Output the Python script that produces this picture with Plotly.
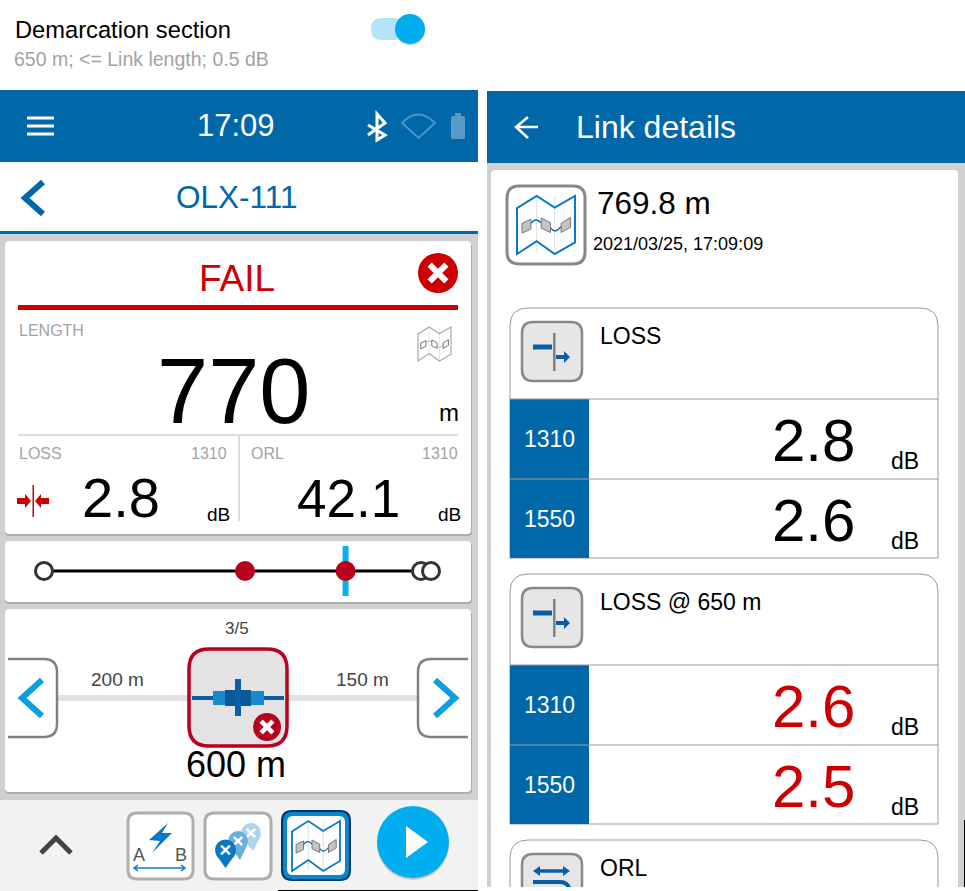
import plotly.graph_objects as go

clock_time = "17:09"
device_name = "OLX-111"
verdict = "FAIL"
section_title = "Demarcation section"
section_params = "650 m; <= Link length; 0.5 dB"
link_length_short = 770
link_length_exact = 769.8
link_stamp = "2021/03/25, 17:09:09"
summary_wavelength = 1310
summary_loss = 2.8
summary_orl = 42.1
wavelengths = [1310, 1550]
loss_db = [2.8, 2.6]
loss_650_db = [2.6, 2.5]
event_positions_m = [0, 400, 600, 750, 770]
event_kinds = ["end", "fail", "fail", "end", "end"]
selected_event = "3/5"
selected_position_m = 600
span_before_m = 200
span_after_m = 150

FONT = "Liberation Sans"
BLUE = "#0067a9"
RED = "#cc0000"
DARK_RED = "#b8001f"
CYAN = "#00aeef"
GREY_TXT = "#a3a3a3"
BACK = "#d0d0d0"

shapes = []
notes = []


def path(d, fill=None, line=None, width=0):
    s = dict(type="path", path=d, layer="below", line=dict(width=width, color=line or "rgba(0,0,0,0)"))
    if fill:
        s["fillcolor"] = fill
    shapes.append(s)


def poly(pts, line, width, closed=False, fill=None):
    d = "M " + " L ".join(f"{x} {y}" for x, y in pts) + (" Z" if closed else "")
    path(d, fill=fill, line=line, width=width)


def rrect(x0, y0, x1, y1, r, fill=None, line=None, width=0):
    d = (f"M {x0+r} {y0} L {x1-r} {y0} Q {x1} {y0} {x1} {y0+r} L {x1} {y1-r} Q {x1} {y1} {x1-r} {y1} "
         f"L {x0+r} {y1} Q {x0} {y1} {x0} {y1-r} L {x0} {y0+r} Q {x0} {y0} {x0+r} {y0} Z")
    path(d, fill=fill, line=line, width=width)


def rect(x0, y0, x1, y1, fill):
    shapes.append(dict(type="rect", x0=x0, y0=y0, x1=x1, y1=y1, fillcolor=fill, line_width=0, layer="below"))


def circle(cx, cy, r, fill):
    shapes.append(dict(type="circle", x0=cx-r, y0=cy-r, x1=cx+r, y1=cy+r, fillcolor=fill, line_width=0, layer="below"))


def text(x, base, s, size, color="#000000", anchor="left"):
    # y is given as the baseline, annotations only know the middle of the box
    # annotation boxes have some padding, so nudge the side anchored ones
    nudge = {"left": -2, "right": 2, "center": 0}[anchor]
    notes.append(dict(x=x+nudge, y=base-0.35*size, text=str(s), showarrow=False, xanchor=anchor, yanchor="middle",
                      font=dict(family=FONT, size=size, color=color)))


def card(x0, y0, x1, y1):
    rrect(x0, y0+2, x1+1, y1+2, 4, fill="#adadad")
    rrect(x0, y0, x1, y1, 4, fill="#ffffff")


def fail_badge(cx, cy, r, color, lw):
    circle(cx, cy, r, color)
    a = r*0.42
    poly([(cx-a, cy-a), (cx+a, cy+a)], "#ffffff", lw)
    poly([(cx-a, cy+a), (cx+a, cy-a)], "#ffffff", lw)


def map_icon(x0, y0, w, h, color, lw, fold, block, edge):
    fx = lambda v: round(x0+v*w, 1)
    fy = lambda v: round(y0+v*h, 1)
    for v in (0.34, 0.65):
        poly([(fx(v), fy(0.02)), (fx(v), fy(0.98))], fold, 1)
    outline = [(0, .21), (.34, 0), (.65, .2), (1, 0), (1, .8), (.65, 1), (.34, .78), (0, 1)]
    poly([(fx(a), fy(b)) for a, b in outline], color, lw, closed=True)
    path(f"M {fx(.24)} {fy(.47)} Q {fx(.32)} {fy(.36)} {fx(.417)} {fy(.46)}", line=edge, width=lw*0.7)
    path(f"M {fx(.577)} {fy(.55)} Q {fx(.66)} {fy(.66)} {fx(.76)} {fy(.53)}", line=edge, width=lw*0.7)
    for q in ([(.086, .47), (.24, .40), (.24, .57), (.086, .64)],
              [(.417, .38), (.577, .46), (.577, .63), (.417, .555)],
              [(.76, .47), (.92, .37), (.92, .54), (.76, .63)]):
        poly([(fx(a), fy(b)) for a, b in q], "#777777", 1, closed=True, fill=block)


def pin(cx, cy, r, tip_x, tip_y, color):
    circle(cx, cy, r, color)
    poly([(cx-r*0.9, cy+r*0.45), (tip_x, tip_y), (cx+r*0.9, cy+r*0.45)], color, 0, closed=True, fill=color)
    a = r*0.42
    poly([(cx-a, cy-a), (cx+a, cy+a)], "#ffffff", 2.5)
    poly([(cx-a, cy+a), (cx+a, cy-a)], "#ffffff", 2.5)


# ---- top strip
text(15, 38, section_title, 23.7)
text(14, 66, section_params, 19.5, GREY_TXT)
rrect(371, 18, 405, 40, 11, fill="#b5e4fa")
circle(410, 30, 15, "#c9c9c9")
circle(410, 29, 15, CYAN)

# ---- left screen
rect(0, 90, 478, 162, BLUE)
rect(0, 231, 478, 234, BLUE)
rect(0, 234, 478, 800, BACK)
for y in (118, 126, 134):
    poly([(27, y), (54, y)], "#ffffff", 3)
text(236, 136, clock_time, 31, "#ffffff", "center")
poly([(368, 125), (385, 135), (377, 140), (377, 114), (385, 123), (368, 135)], "#ffffff", 3)
path("M 402 123 Q 418 106 435 123 L 418.5 138 Z", line="#4f94c6", width=2)
rrect(451, 116, 465, 139, 2, fill="#5a9ac8")
rect(455, 113, 461, 116, "#5a9ac8")
poly([(43, 182), (25, 198), (43, 214)], BLUE, 6)
text(236, 208, device_name, 31.5, BLUE, "center")

card(5, 241, 471, 534)
text(237, 291, verdict, 37, RED, "center")
fail_badge(438, 273, 20, RED, 6)
rect(18, 305, 458, 310, RED)
text(19, 336, "LENGTH", 16, GREY_TXT)
map_icon(418, 327, 33, 34, "#a8a8a8", 1.2, "#e6e6e6", "#ffffff", "#a8a8a8")
text(234, 423, link_length_short, 92, "#000000", "center")
text(459, 421, "m", 24, "#000000", "right")
rect(18, 434, 458, 436, "#dddddd")
rect(238, 436, 240, 521, "#dddddd")
text(19, 459, "LOSS", 16, GREY_TXT)
text(227, 459, summary_wavelength, 16, GREY_TXT, "right")
text(251, 459, "ORL", 16, GREY_TXT)
text(458, 459, summary_wavelength, 16, GREY_TXT, "right")
rect(32.5, 485, 34, 517, RED)
poly([(17, 498), (25, 498), (25, 494), (31, 501), (25, 508), (25, 504), (17, 504)], RED, 0, closed=True, fill=RED)
poly([(49, 498), (41, 498), (41, 494), (35, 501), (41, 508), (41, 504), (49, 504)], RED, 0, closed=True, fill=RED)
text(121, 517, summary_loss, 56, "#000000", "center")
text(230, 521, "dB", 19, "#000000", "right")
text(400, 517, summary_orl, 53, "#000000", "right")
text(461, 521, "dB", 19, "#000000", "right")

card(5, 541, 471, 602)

card(5, 609, 471, 792)
text(237, 634, selected_event, 17, "#444444", "center")
rect(58, 695, 418, 701, "#e2e2e2")
text(117, 686, f"{span_before_m} m", 19, "#444444", "center")
text(362, 686, f"{span_after_m} m", 19, "#444444", "center")
path("M 8 659 L 44 659 Q 57 659 57 672 L 57 724 Q 57 737 44 737 L 8 737", fill="#ffffff", line="#808080", width=2.5)
path("M 468 659 L 431 659 Q 418 659 418 672 L 418 724 Q 418 737 431 737 L 468 737", fill="#ffffff", line="#808080", width=2.5)
poly([(42, 680), (22, 698), (42, 716)], "#0a9fe0", 6)
poly([(435, 680), (455, 698), (435, 716)], "#0a9fe0", 6)
rrect(189, 649, 287, 746, 20, fill="#e3e3e3", line=DARK_RED, width=3.5)
rect(192, 696, 284, 700, "#0a5ea8")
rect(213, 691, 264, 705, "#1a8ad0")
rect(225, 690, 251, 706, "#0a5a9a")
rect(235, 679, 241, 716, "#0a5ea8")
fail_badge(267, 727, 14, DARK_RED, 4.5)
text(236, 777, f"{selected_position_m} m", 36, "#000000", "center")

# ---- bottom bar
rect(0, 800, 478, 891, "#f2f2f2")
poly([(41, 853), (56, 838), (71, 853)], "#444444", 5)
rrect(128, 813, 193, 879, 9, fill="#ffffff", line="#aeaeae", width=3)
poly([(168, 823), (149, 840), (160, 841), (152, 853), (172, 833), (162, 833)], "#0a78c4", 0, closed=True, fill="#0a78c4")
text(139, 861, "A", 18, "#555555", "center")
text(181, 861, "B", 18, "#555555", "center")
poly([(134, 868), (185, 868)], "#0a78c4", 1.5)
poly([(138, 865), (134, 868), (138, 871)], "#0a78c4", 1.5)
poly([(181, 865), (185, 868), (181, 871)], "#0a78c4", 1.5)
rrect(205, 813, 271, 879, 9, fill="#ffffff", line="#aeaeae", width=3)
pin(251, 833, 10, 253, 851, "#b0d4ee")
pin(238, 841, 10, 240, 860, "#6aaedc")
pin(225.5, 850, 10.5, 225.5, 868, "#0a78c4")
rrect(281, 810, 351, 881, 11, fill="#00385f")
rrect(283, 812, 349, 879, 9, fill="#0a86d0")
rrect(287, 816, 345, 875, 6, fill="#ffffff")
map_icon(292, 821, 48, 50, "#0a78c4", 1.8, "#cfe3f2", "#c4c4c4", "#0a5ea8")
circle(413, 844, 36, "#c6c6c6")
circle(413, 842, 36, CYAN)
poly([(406, 826), (428, 842), (406, 858)], "#ffffff", 0, closed=True, fill="#ffffff")
rect(278, 890, 478, 891, "#000000")

# ---- right screen
rect(487, 163, 965, 887, BACK)
rect(487, 91, 965, 163, BLUE)
poly([(538, 127), (516, 127)], "#ffffff", 2.5)
poly([(528, 117), (516, 127), (528, 138)], "#ffffff", 2.5)
text(576, 138, "Link details", 32, "#ffffff")
rrect(491, 170, 958, 890, 4, fill="#ffffff")
rrect(507, 186, 585, 264, 12, fill="#ffffff", line="#888888", width=3)
map_icon(517, 196, 58, 58, "#0a78c4", 2, "#cfe3f2", "#c4c4c4", "#0a5ea8")
text(597, 214, f"{link_length_exact} m", 31.5)
text(593, 250, link_stamp, 18)


def tool_button(top):
    rrect(522, top, 582, top+59, 11, fill="#e6e6e6", line="#888888", width=2.5)


def panel(top, title, values, color):
    # only the top corners are rounded, the table closes it square
    b = top+250
    path(f"M 510 {b} L 510 {top+18} Q 510 {top} 528 {top} L 920 {top} Q 938 {top} 938 {top+18} L 938 {b} Z",
         fill="#ffffff", line="#999999", width=1)
    tool_button(top+14)
    rect(553, top+25, 555.5, top+63, "#808080")
    rect(533, top+36.5, 552, top+41.5, "#0a5ea8")
    poly([(556, top+47), (564, top+47), (564, top+43), (570, top+49), (564, top+55), (564, top+51), (556, top+51)],
         "#0a5ea8", 0, closed=True, fill="#0a5ea8")
    text(600, top+36, title, 23)
    for i, (wl, v) in enumerate(zip(wavelengths, values)):
        row = top+91+i*80
        rect(510, row, 589, row+80 if i == 0 else row+79, BLUE)
        poly([(510, row), (938, row)], "#999999", 1)
        text(549, row+48, wl, 23, "#ffffff", "center")
        text(813, row+62, v, 60, color, "center")
        text(919, row+70, "dB", 23, "#000000", "right")


panel(308, "LOSS", loss_db, "#000000")
panel(574, "LOSS @ 650 m", loss_650_db, RED)

# third panel runs off the bottom of the screen
rrect(510, 840, 938, 950, 18, fill="#ffffff", line="#999999", width=1)
tool_button(854)
poly([(536, 871), (567, 871)], "#0a5ea8", 3.5)
poly([(533, 871), (540, 866), (540, 876)], "#0a5ea8", 0, closed=True, fill="#0a5ea8")
poly([(570, 871), (563, 866), (563, 876)], "#0a5ea8", 0, closed=True, fill="#0a5ea8")
path("M 533 882 L 560 882 Q 568 882 570 890", line="#0a5ea8", width=4)
text(600, 876, "ORL", 23)
rect(487, 887, 965, 891, "#ffffff")
rect(964, 820, 965, 887, "#000000")

# ---- link map, placed by its own distance axis
fig = go.Figure()
# empty trace keeps the page axis alive next to the distance axis
fig.add_trace(go.Scatter(x=[None], y=[None], xaxis="x", yaxis="y", mode="markers", hoverinfo="skip"))
fig.add_trace(go.Scatter(x=[selected_position_m, selected_position_m], y=[546, 596], xaxis="x2", yaxis="y",
                         mode="lines", line=dict(color="#0cb0ee", width=6), hoverinfo="skip", cliponaxis=False))
fig.add_trace(go.Scatter(x=[event_positions_m[0], event_positions_m[-1]], y=[571, 571], xaxis="x2", yaxis="y",
                         mode="lines", line=dict(color="#000000", width=3), hoverinfo="skip", cliponaxis=False))
for pos, kind in zip(event_positions_m, event_kinds):
    if kind == "end":
        mk = dict(size=17, color="#ffffff", line=dict(color="#333333", width=3))
    else:
        mk = dict(size=20, color=DARK_RED)
    fig.add_trace(go.Scatter(x=[pos], y=[571], xaxis="x2", yaxis="y", mode="markers", marker=mk,
                             hoverinfo="skip", cliponaxis=False))

fig.update_layout(
    width=965, height=891,
    margin=dict(l=0, r=0, t=0, b=0),
    paper_bgcolor="#ffffff", plot_bgcolor="rgba(0,0,0,0)",
    showlegend=False,
    xaxis=dict(domain=[0, 1], range=[0, 965], visible=False, fixedrange=True),
    yaxis=dict(domain=[0, 1], range=[891, 0], visible=False, fixedrange=True),
    xaxis2=dict(domain=[44/965, 431/965], range=[0, 770], visible=False, anchor="y", fixedrange=True),
    shapes=shapes,
    annotations=notes,
)

# the page's default body margin would shift everything
fig.write_html("out.html", config={"displayModeBar": False},
               post_script="document.body.style.margin='0';")
